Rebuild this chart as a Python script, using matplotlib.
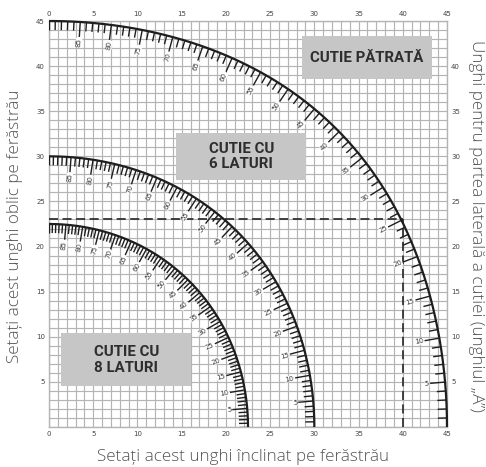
import numpy as np
import matplotlib
matplotlib.use("Agg")
import matplotlib.pyplot as plt
from matplotlib.patches import Rectangle

# ---- data ----
box_sides = [4, 6, 8]                      # square, hexagon, octagon boxes
box_texts = ["CUTIE PĂTRATĂ", "CUTIE CU\n6 LATURI", "CUTIE CU\n8 LATURI"]
side_angles = np.arange(0, 91, 1)          # angle "A" tick marks (degrees)
label_angles = np.arange(5, 90, 5)         # labelled angle "A" values
example_bevel = 40                         # dashed example: bevel angle
example_miter = 23                         # dashed example: miter angle
x_ticks = [0, 5, 10, 15, 20, 25, 30, 35, 40, 45]
y_ticks_left = [5, 10, 15, 20, 25, 30, 35, 40, 45]
y_ticks_right = [5, 10, 15, 20, 25, 30, 35, 40]

xlabel = "Setați acest unghi înclinat pe ferăstrău"
ylabel_left = "Setați acest unghi oblic pe ferăstrău"
ylabel_right = "Unghi pentru partea laterală a cutiei (unghiul „A”)"


def compound(a_deg, n):
    """Bevel (x) and miter (y) angle for side angle A of an n-sided box."""
    a = np.radians(a_deg)
    half = np.radians(180.0 / n)
    bevel = np.degrees(np.arcsin(np.cos(a) * np.sin(half)))
    miter = np.degrees(np.arctan(np.sin(a) * np.tan(half)))
    return bevel, miter


fig = plt.figure(figsize=(4.86, 4.67), dpi=100)
ax = fig.add_axes([49 / 486, 1 - 427 / 467, 398 / 486, 406 / 467])
ax.set_xlim(0, 45)
ax.set_ylim(0, 45)

grid_c = "#b4b4b4"
ax.set_xticks(np.arange(0, 46, 1), minor=True)
ax.set_yticks(np.arange(0, 46, 1), minor=True)
ax.grid(True, which="both", color=grid_c, lw=0.85, zorder=0)
ax.set_axisbelow(True)
for s in ax.spines.values():
    s.set_color(grid_c)
    s.set_linewidth(1.0)

# tick labels
ax.set_xticks(x_ticks)
ax.set_yticks(y_ticks_left)
ax.tick_params(which="both", length=0, labelsize=5, labelcolor="#444444",
               top=True, labeltop=True, bottom=True, labelbottom=True,
               left=True, labelleft=True, pad=3)
ax_r = ax.secondary_yaxis("right")
ax_r.set_yticks(y_ticks_right)
ax_r.tick_params(length=0, labelsize=5, labelcolor="#444444", pad=3)
ax_r.spines["right"].set_visible(False)

# gray boxes with text
box_rects = [(28.6, 38.6, 14.7, 4.7), (14.4, 27.4, 14.7, 5.2), (1.4, 4.5, 14.7, 5.9)]
for (x0, y0, w, h), t in zip(box_rects, box_texts):
    ax.add_patch(Rectangle((x0, y0), w, h, facecolor="#c6c6c6", edgecolor="none", zorder=1))
    ax.text(x0 + w / 2, y0 + h / 2, t, ha="center", va="center", fontsize=10.8,
            fontweight="bold", color="#2e2e2e", linespacing=1.15,
            family=["Roboto", "DejaVu Sans"], zorder=2)

# dashed example
ax.plot([0, example_bevel], [example_miter, example_miter], ls=(0, (5, 2.5)),
        color="#333333", lw=1.3, zorder=3)
ax.plot([example_bevel, example_bevel], [0, example_miter], ls=(0, (5, 2.5)),
        color="#333333", lw=1.3, zorder=3)

# display scale (pixels per unit) for normals / rotations
sx = 398 / 45.0
sy = 406 / 45.0

for n in box_sides:
    a_fine = np.linspace(0, 90, 721)
    bx, my = compound(a_fine, n)
    ax.plot(bx, my, color="#1e1e1e", lw=1.6, zorder=4, solid_capstyle="butt", clip_on=False)

    # ticks
    for a in side_angles:
        b0, m0 = compound(a, n)
        b1, m1 = compound(a + 0.01, n)
        b2, m2 = compound(a - 0.01, n)
        tx, ty = (b1 - b2) * sx, (m1 - m2) * sy
        nx, ny = ty, -tx
        L = np.hypot(nx, ny)
        nx, ny = nx / L, ny / L
        if nx * b0 + ny * m0 < 0:
            nx, ny = -nx, -ny
        major = a in label_angles
        tl = 15.0 if major else 9.0     # pixels
        xe = b0 - nx * tl / sx
        ye = m0 - ny * tl / sy
        ax.plot([b0, xe], [m0, ye], color="#1e1e1e", lw=1.0, zorder=4,
                solid_capstyle="butt")
        if major:
            rot = np.degrees(np.arctan2(ny, nx))
            xl = b0 - nx * (tl + 1.0) / sx
            yl = m0 - ny * (tl + 1.0) / sy
            ax.text(xl, yl, f"{int(a)}", rotation=rot, rotation_mode="anchor",
                    ha="right", va="center", fontsize=5, color="#333333", zorder=5,
                    bbox=dict(facecolor="white", edgecolor="none", pad=0.1))

lab_font = dict(fontsize=12.3, color="#555555", family=["Open Sans", "DejaVu Sans"],
                fontweight="light")
fig.text(0.5, 1 - 457 / 467, xlabel, ha="center", va="center", **lab_font)
fig.text(15 / 486, 1 - 226 / 467, ylabel_left, rotation=90, ha="center",
         va="center", **lab_font)
fig.text(476 / 486, 1 - 226 / 467, ylabel_right, rotation=-90, ha="center",
         va="center", **lab_font)

fig.savefig("out.png", dpi=100)
